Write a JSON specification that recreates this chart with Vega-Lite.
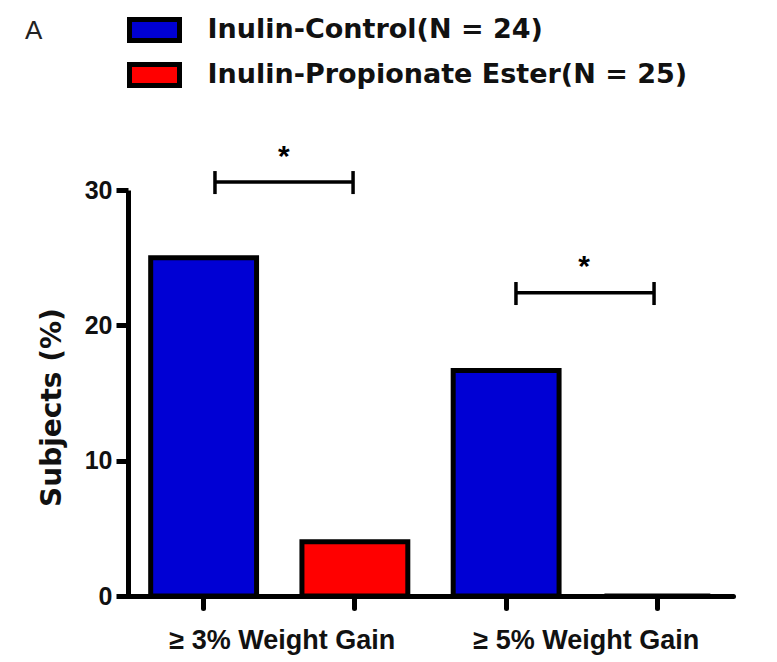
{
  "$schema": "https://vega.github.io/schema/vega-lite/v6.json",
  "width": 605,
  "height": 406,
  "autosize": {"type": "none"},
  "padding": {"left": 128, "top": 190, "right": 44, "bottom": 66},
  "background": "white",
  "config": {"view": {"stroke": null}, "font": "Liberation Sans"},
  "title": {
    "text": "A",
    "anchor": "start",
    "frame": "group",
    "orient": "top",
    "offset": 0,
    "baseline": "alphabetic",
    "dx": -103,
    "dy": 50,
    "font": "Liberation Sans",
    "fontSize": 26,
    "fontWeight": "normal",
    "color": "#222222"
  },
  "datasets": {
    "bars": [
      {"slot": "c3", "group": "≥ 3% Weight Gain", "series": "Inulin-Control(N = 24)", "pct": 25},
      {"slot": "p3", "group": "≥ 3% Weight Gain", "series": "Inulin-Propionate Ester(N = 25)", "pct": 4},
      {"slot": "c5", "group": "≥ 5% Weight Gain", "series": "Inulin-Control(N = 24)", "pct": 16.67},
      {"slot": "p5", "group": "≥ 5% Weight Gain", "series": "Inulin-Propionate Ester(N = 25)", "pct": 0}
    ],
    "brackets": [
      {"left": 0.575, "right": 1.488, "level": 30.6, "capLow": 29.7, "capHigh": 31.4, "mid": 1.03, "starLevel": 31.8, "star": "*"},
      {"left": 2.565, "right": 3.478, "level": 22.4, "capLow": 21.5, "capHigh": 23.2, "mid": 3.015, "starLevel": 23.65, "star": "*"}
    ],
    "groups": [
      {"group": "≥ 3% Weight Gain", "center": 1.02},
      {"group": "≥ 5% Weight Gain", "center": 3.03}
    ]
  },
  "layer": [
    {
      "data": {"name": "bars"},
      "mark": {"type": "bar", "stroke": "black", "strokeWidth": 5, "strokeJoin": "miter"},
      "encoding": {
        "x": {
          "field": "slot",
          "type": "nominal",
          "sort": null,
          "scale": {"paddingInner": 0.3, "paddingOuter": 0.15},
          "axis": {
            "labels": false,
            "title": null,
            "domainColor": "black",
            "domainWidth": 5,
            "domainCap": "round",
            "tickColor": "black",
            "tickWidth": 5,
            "tickSize": 12,
            "tickCap": "round"
          }
        },
        "y": {
          "field": "pct",
          "type": "quantitative",
          "scale": {"domain": [0, 30], "nice": false},
          "axis": {
            "values": [0, 10, 20, 30],
            "grid": false,
            "title": "Subjects (%)",
            "titleFont": "DejaVu Sans",
            "titleFontWeight": "bold",
            "titleFontSize": 28,
            "titleColor": "#111111",
            "titlePadding": 18,
            "titleY": 217,
            "domainColor": "black",
            "domainWidth": 5,
            "tickColor": "black",
            "tickWidth": 5,
            "tickSize": 12,
            "labelFont": "Liberation Sans",
            "labelFontWeight": "bold",
            "labelFontSize": 25,
            "labelColor": "#111111",
            "labelPadding": 4
          }
        },
        "color": {
          "field": "series",
          "type": "nominal",
          "scale": {
            "domain": ["Inulin-Control(N = 24)", "Inulin-Propionate Ester(N = 25)"],
            "range": ["#0000d4", "#ff0000"]
          },
          "legend": {
            "title": null,
            "orient": "none",
            "legendX": 11.5,
            "legendY": -175,
            "direction": "vertical",
            "symbolType": "M-2,-0.84H2V0.84H-2Z",
            "symbolSize": 625,
            "symbolStrokeColor": "black",
            "symbolStrokeWidth": 5,
            "symbolOpacity": 1,
            "labelFont": "DejaVu Sans",
            "labelFontWeight": "bold",
            "labelFontSize": 27,
            "labelColor": "#111111",
            "labelOffset": 38,
            "labelLimit": 600,
            "rowPadding": 3
          }
        }
      }
    },
    {
      "layer": [
        {
          "data": {"name": "brackets"},
          "mark": {"type": "rule", "strokeWidth": 3.5, "color": "black"},
          "encoding": {
            "x": {"field": "left", "type": "quantitative", "scale": {"domain": [0, 4], "nice": false, "zero": false}, "axis": null},
            "x2": {"field": "right"},
            "y": {"field": "level", "type": "quantitative", "scale": {"domain": [0, 30], "nice": false}}
          }
        },
        {
          "data": {"name": "brackets"},
          "mark": {"type": "rule", "strokeWidth": 3.5, "color": "black"},
          "encoding": {
            "x": {"field": "left", "type": "quantitative", "scale": {"domain": [0, 4], "nice": false, "zero": false}, "axis": null},
            "y": {"field": "capLow", "type": "quantitative", "scale": {"domain": [0, 30], "nice": false}},
            "y2": {"field": "capHigh"}
          }
        },
        {
          "data": {"name": "brackets"},
          "mark": {"type": "rule", "strokeWidth": 3.5, "color": "black"},
          "encoding": {
            "x": {"field": "right", "type": "quantitative", "scale": {"domain": [0, 4], "nice": false, "zero": false}, "axis": null},
            "y": {"field": "capLow", "type": "quantitative", "scale": {"domain": [0, 30], "nice": false}},
            "y2": {"field": "capHigh"}
          }
        },
        {
          "data": {"name": "brackets"},
          "mark": {"type": "text", "font": "Liberation Sans", "fontWeight": "bold", "fontSize": 30, "color": "black", "align": "center", "baseline": "alphabetic"},
          "encoding": {
            "x": {"field": "mid", "type": "quantitative", "scale": {"domain": [0, 4], "nice": false, "zero": false}, "axis": null},
            "y": {"field": "starLevel", "type": "quantitative", "scale": {"domain": [0, 30], "nice": false}},
            "text": {"field": "star"}
          }
        },
        {
          "data": {"name": "groups"},
          "mark": {"type": "text", "font": "Liberation Sans", "fontWeight": "bold", "fontSize": 27, "color": "#111111", "align": "center", "baseline": "alphabetic"},
          "encoding": {
            "x": {"field": "center", "type": "quantitative", "scale": {"domain": [0, 4], "nice": false, "zero": false}, "axis": null},
            "y": {"datum": -3.92, "type": "quantitative", "scale": {"domain": [0, 30], "nice": false}},
            "text": {"field": "group"}
          }
        }
      ]
    }
  ],
  "resolve": {"scale": {"x": "independent"}, "axis": {"x": "independent"}}
}
